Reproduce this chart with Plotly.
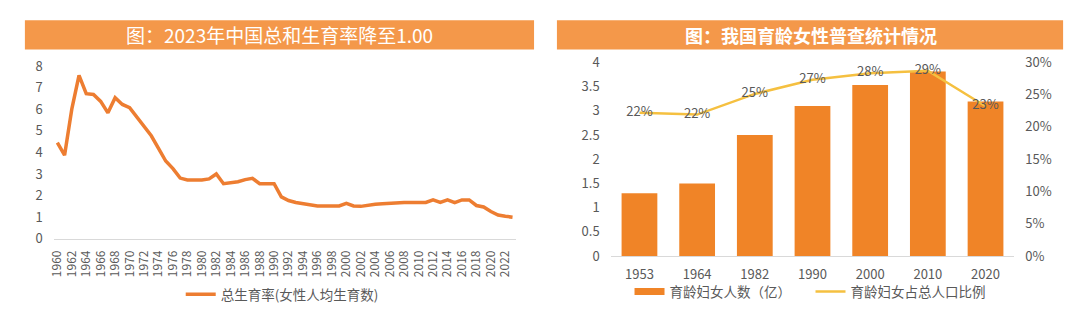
import plotly.graph_objects as go

# ---------------- data ----------------
years = list(range(1960, 2024))
tfr = [4.45, 3.87, 6.0, 7.57, 6.72, 6.68, 6.36, 5.83, 6.53, 6.22,
       6.07, 5.64, 5.2, 4.77, 4.19, 3.6, 3.25, 2.81, 2.72, 2.72,
       2.72, 2.77, 3.0, 2.55, 2.58, 2.64, 2.74, 2.8, 2.55, 2.55,
       2.55, 1.94, 1.77, 1.68, 1.62, 1.57, 1.52, 1.52, 1.52, 1.52,
       1.64, 1.52, 1.5, 1.57, 1.6, 1.62, 1.65, 1.68, 1.68, 1.68,
       1.68, 1.68, 1.8, 1.68, 1.8, 1.67, 1.8, 1.8, 1.54, 1.47,
       1.26, 1.1, 1.04, 1.0]
year_ticks = list(range(1960, 2023, 2))

census_years = ["1953", "1964", "1982", "1990", "2000", "2010", "2020"]
women_count = [1.3, 1.5, 2.5, 3.1, 3.53, 3.81, 3.19]
women_share = [0.222, 0.219, 0.251, 0.273, 0.283, 0.287, 0.232]

left_title = "图：2023年中国总和生育率降至1.00"
right_title = "图：我国育龄女性普查统计情况"
left_legend = "总生育率(女性人均生育数)"
bar_legend = "育龄妇女人数（亿）"
line_legend = "育龄妇女占总人口比例"

# ---------------- style ----------------
W, H = 1080, 324
FONT = "Noto Sans CJK SC"
GRAY = "#595959"
ORANGE_LINE = "#ED7D31"
ORANGE_BAR = "#F08427"
GOLD = "#F5C040"
TITLE_BG = "#F4984A"


def px_x(p):
    return p / W


def px_y(p):
    return (H - p) / H


fig = go.Figure()

# left chart: total fertility rate
fig.add_trace(go.Scatter(
    x=years, y=tfr, mode="lines", name=left_legend,
    line=dict(color=ORANGE_LINE, width=3.5),
    xaxis="x", yaxis="y", legend="legend",
))

# right chart: bars
fig.add_trace(go.Bar(
    x=census_years, y=women_count, name=bar_legend,
    marker=dict(color=ORANGE_BAR, line=dict(width=0)),
    xaxis="x2", yaxis="y3", showlegend=False,
))
# legend swatch for bars (wide rectangle like the reference)
fig.add_trace(go.Scatter(
    x=[None], y=[None], mode="lines", name=bar_legend,
    line=dict(color=ORANGE_BAR, width=7),
    xaxis="x2", yaxis="y3", legend="legend2",
))
# right chart: share line
fig.add_trace(go.Scatter(
    x=census_years, y=women_share, mode="lines+text", name=line_legend,
    line=dict(color=GOLD, width=2.5),
    text=[f"{round(v * 100)}%" for v in women_share],
    textposition="middle center",
    textfont=dict(family=FONT, size=13, color=GRAY),
    cliponaxis=False,
    xaxis="x2", yaxis="y4", legend="legend3",
))

# title bars
fig.add_shape(type="rect", xref="paper", yref="paper",
              x0=px_x(19), x1=px_x(531), y0=px_y(42), y1=px_y(11),
              fillcolor=TITLE_BG, line=dict(width=0), layer="below")
fig.add_shape(type="rect", xref="paper", yref="paper",
              x0=px_x(554), x1=px_x(1063), y0=px_y(42), y1=px_y(11),
              fillcolor=TITLE_BG, line=dict(width=0), layer="below")
fig.add_annotation(text=left_title, xref="paper", yref="paper",
                   x=px_x(275), y=px_y(26.5), showarrow=False,
                   xanchor="center", yanchor="middle",
                   font=dict(family=FONT, size=19, color="white"))
fig.add_annotation(text=f"<b>{right_title}</b>", xref="paper", yref="paper",
                   x=px_x(809), y=px_y(26.5), showarrow=False,
                   xanchor="center", yanchor="middle",
                   font=dict(family=FONT, size=18, color="white"))

tick_font = dict(family=FONT, size=13, color=GRAY)
leg_font = dict(family=FONT, size=13.5, color=GRAY)

fig.update_layout(
    width=W, height=H,
    margin=dict(l=0, r=0, t=0, b=0),
    paper_bgcolor="white", plot_bgcolor="white",
    font=dict(family=FONT, color=GRAY),
    bargap=0.38,
    xaxis=dict(domain=[px_x(48), px_x(513)], range=[1959.5, 2023.5],
               tickmode="array", tickvals=year_ticks,
               ticktext=[str(y) for y in year_ticks], tickangle=-90,
               tickfont=dict(family=FONT, size=12, color=GRAY),
               showgrid=False, zeroline=False, showline=True,
               linecolor="#D9D9D9", linewidth=1, ticks="",
               ticklabelstandoff=6, anchor="y"),
    yaxis=dict(domain=[px_y(243), px_y(59.5)], range=[0, 8], dtick=1,
               tickfont=tick_font, showgrid=False, zeroline=False,
               showline=False, ticks="", ticklabelstandoff=10,
               anchor="x"),
    xaxis2=dict(domain=[px_x(608), px_x(1014)], type="category",
                tickfont=tick_font, showgrid=False, zeroline=False,
                showline=True, linecolor="#D9D9D9", linewidth=1,
                ticks="", ticklabelstandoff=6, anchor="y3"),
    yaxis3=dict(domain=[px_y(261.5), px_y(55.5)], range=[0, 4], dtick=0.5,
                tickfont=tick_font, showgrid=False, zeroline=False,
                showline=False, ticks="", ticklabelstandoff=10,
                anchor="x2"),
    yaxis4=dict(overlaying="y3", side="right", range=[0, 0.30],
                dtick=0.05, tickformat=".0%", tickfont=tick_font,
                showgrid=False, zeroline=False, showline=False,
                ticks="", ticklabelstandoff=10, anchor="x2"),
    legend=dict(x=px_x(175.7), y=px_y(302.3), xanchor="left",
                yanchor="middle", orientation="h", font=leg_font,
                bgcolor="rgba(0,0,0,0)", borderwidth=0),
    legend2=dict(x=px_x(627), y=px_y(299.3), xanchor="left",
                 yanchor="middle", orientation="h", font=leg_font,
                 bgcolor="rgba(0,0,0,0)", borderwidth=0),
    legend3=dict(x=px_x(809), y=px_y(299.3), xanchor="left",
                 yanchor="middle", orientation="h", font=leg_font,
                 bgcolor="rgba(0,0,0,0)", borderwidth=0),
)

fig.write_html("out.html")
